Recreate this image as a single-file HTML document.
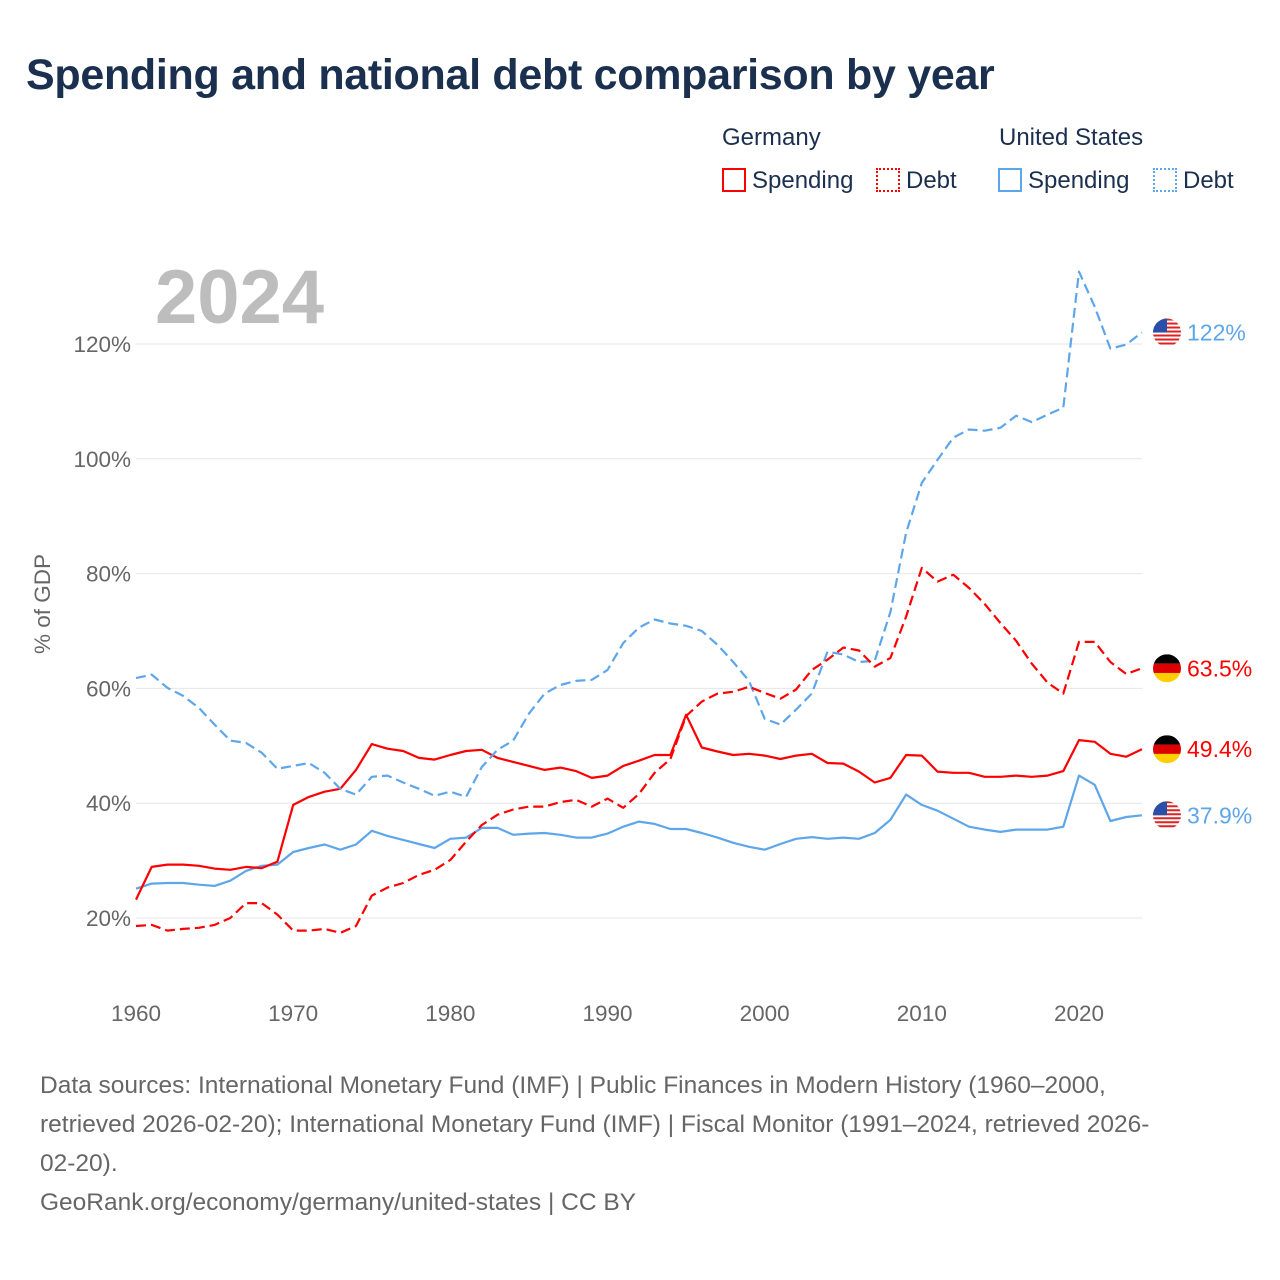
<!DOCTYPE html>
<html><head><meta charset="utf-8"><style>
body{margin:0;background:#fff;font-family:"Liberation Sans",sans-serif;}
#wrap{position:relative;width:1280px;height:1280px;overflow:hidden;}
.t{position:absolute;white-space:nowrap;}
</style></head><body>
<div id="wrap">
<div class="t" style="left:26px;top:51px;font-size:43px;font-weight:bold;color:#1b2f4f;letter-spacing:-0.3px;">Spending and national debt comparison by year</div>
<div class="t" style="left:722px;top:124px;font-size:24px;color:#1b2f4f;">Germany</div>
<div class="t" style="left:999px;top:124px;font-size:24px;color:#1b2f4f;">United States</div>
<div class="t" style="left:722px;top:167px;font-size:24px;color:#1b2f4f;"><span style="display:inline-block;width:20px;height:20px;border:2px solid #f00;vertical-align:-4px;margin-right:6px;"></span>Spending</div>
<div class="t" style="left:876px;top:167px;font-size:24px;color:#1b2f4f;"><span style="display:inline-block;width:20px;height:20px;border:2px dotted #f00;vertical-align:-4px;margin-right:6px;"></span>Debt</div>
<div class="t" style="left:998px;top:167px;font-size:24px;color:#1b2f4f;"><span style="display:inline-block;width:20px;height:20px;border:2px solid #5ea6ea;vertical-align:-4px;margin-right:6px;"></span>Spending</div>
<div class="t" style="left:1153px;top:167px;font-size:24px;color:#1b2f4f;"><span style="display:inline-block;width:20px;height:20px;border:2px dotted #5ea6ea;vertical-align:-4px;margin-right:6px;"></span>Debt</div>
<div class="t" style="left:155px;top:254px;font-size:76px;font-weight:bold;color:#bdbdbd;">2024</div>
<svg id="chart" width="1280" height="1280" style="position:absolute;left:0;top:0"></svg>
<div class="t" style="left:40px;top:1066px;font-size:24.5px;line-height:39px;color:#666;">Data sources: International Monetary Fund (IMF) | Public Finances in Modern History (1960–2000,<br>retrieved 2026-02-20); International Monetary Fund (IMF) | Fiscal Monitor (1991–2024, retrieved 2026-<br>02-20).<br>GeoRank.org/economy/germany/united-states | CC BY</div>
</div>
<script>
const years=[];for(let y=1960;y<=2024;y++)years.push(y);
const yTicks=[20,40,60,80,100,120];
const xTicks=[1960,1970,1980,1990,2000,2010,2020];
const usDebt=[61.8,62.4,60.1,58.7,56.6,53.7,50.9,50.5,48.8,46.0,46.5,47.0,45.3,42.5,41.5,44.6,44.8,43.6,42.5,41.3,42.0,41.1,46.3,49.3,50.9,55.6,59.1,60.6,61.3,61.5,63.2,67.9,70.6,72.0,71.3,70.9,70.0,67.6,64.6,61.3,54.7,53.7,56.3,59.1,66.4,65.9,64.6,64.8,73.3,87.1,95.8,99.8,103.7,105.1,104.9,105.4,107.5,106.4,107.7,108.9,132.6,126.5,119.2,119.9,122.0];
const deDebt=[18.6,18.8,17.8,18.1,18.3,18.8,20.0,22.6,22.6,20.6,17.8,17.8,18.1,17.4,18.6,23.9,25.3,26.1,27.5,28.4,30.1,33.3,36.2,38.0,38.9,39.4,39.4,40.2,40.6,39.4,40.8,39.2,41.6,45.3,47.7,55.2,57.7,59.1,59.4,60.3,59.2,58.2,59.8,63.2,65.0,67.1,66.6,63.8,65.3,72.5,81.0,78.6,79.8,77.5,74.7,71.4,68.3,64.3,61.0,59.1,68.1,68.1,64.6,62.5,63.5];
const deSpend=[23.2,28.9,29.3,29.3,29.1,28.6,28.4,28.9,28.7,29.8,39.7,41.1,42.0,42.5,45.8,50.3,49.5,49.1,47.9,47.6,48.4,49.1,49.3,47.9,47.2,46.5,45.8,46.2,45.6,44.4,44.8,46.5,47.4,48.4,48.4,55.4,49.7,49.0,48.4,48.6,48.3,47.7,48.3,48.6,47.0,46.9,45.5,43.6,44.4,48.4,48.3,45.5,45.3,45.3,44.6,44.6,44.8,44.6,44.8,45.6,51.0,50.7,48.6,48.1,49.4];
const usSpend=[25.1,26.0,26.1,26.1,25.8,25.6,26.5,28.2,29.1,29.3,31.5,32.2,32.8,31.9,32.8,35.2,34.3,33.6,32.9,32.2,33.8,34.0,35.7,35.7,34.5,34.7,34.8,34.5,34.0,34.0,34.7,35.9,36.8,36.4,35.5,35.5,34.8,34.0,33.1,32.4,31.9,32.9,33.8,34.1,33.8,34.0,33.8,34.8,37.1,41.5,39.7,38.7,37.3,35.9,35.4,35.0,35.4,35.4,35.4,35.9,44.8,43.2,36.9,37.6,37.9];
const NS='http://www.w3.org/2000/svg';
const svg=document.getElementById('chart');
const X=y=>136+(y-1960)*(943/60);
const Y=v=>1032.8-v*5.74;
function mk(tag,attrs,parent){const e=document.createElementNS(NS,tag);for(const k in attrs)e.setAttribute(k,attrs[k]);(parent||svg).appendChild(e);return e;}
yTicks.forEach(v=>{
  const l=mk('line',{x1:136,x2:1142,y1:Y(v),y2:Y(v),stroke:'#e6e6e6','stroke-width':1});
  
  
  const t=mk('text',{x:131,y:Y(v)+8,'text-anchor':'end','font-size':22.5,fill:'#666','font-family':'Liberation Sans, sans-serif'});
  t.textContent=v+'%';
  
  
});
xTicks.forEach(y=>{
  const t=mk('text',{x:X(y),y:1021,'text-anchor':'middle','font-size':22.5,fill:'#666','font-family':'Liberation Sans, sans-serif'});
  t.textContent=y;
  
  
});
const yt=mk('text',{x:0,y:0,transform:'translate(50,604) rotate(-90)','text-anchor':'middle','font-size':22.5,fill:'#666','font-family':'Liberation Sans, sans-serif'});
yt.textContent='% of GDP';


function series(vals,color,dash,name){
  const d=vals.map((v,i)=>(i?'L':'M')+X(years[i]).toFixed(1)+','+Y(v).toFixed(1)).join('');
  const p=mk('path',{d:d,fill:'none',stroke:color,'stroke-width':2.2,'stroke-dasharray':dash?'10,5':'none','stroke-linejoin':'round'});
  
  
}
series(usSpend,'#5ea6ea',false,'line-us-spending');
series(deSpend,'#ff0000',false,'line-de-spending');
series(usDebt,'#5ea6ea',true,'line-us-debt');
series(deDebt,'#ff0000',true,'line-de-debt');
function flag(v,country,label,color,name){
  const cx=1167,cy=Y(v),r=14;
  const g=mk('g',{});
  
  
  const id='c'+Math.round(cy);
  const cp=mk('clipPath',{id:id},g);mk('circle',{cx:cx,cy:cy,r:r},cp);
  const f=mk('g',{'clip-path':'url(#'+id+')'},g);
  if(country==='de'){
    mk('rect',{x:cx-r,y:cy-r,width:2*r,height:2*r/3,fill:'#000'},f);
    mk('rect',{x:cx-r,y:cy-r/3,width:2*r,height:2*r/3,fill:'#dd0000'},f);
    mk('rect',{x:cx-r,y:cy+r/3,width:2*r,height:2*r/3,fill:'#ffce00'},f);
  }else{
    mk('rect',{x:cx-r,y:cy-r,width:2*r,height:2*r,fill:'#fff'},f);
    for(let i=0;i<7;i++)mk('rect',{x:cx-r,y:cy-r+i*4,width:2*r,height:2,fill:'#d22'},f);
    mk('rect',{x:cx-r,y:cy-r,width:r,height:r,fill:'#2a4fa8'},f);
  }
  const t=mk('text',{x:1187,y:cy+8,'font-size':23,fill:color,'font-family':'Liberation Sans, sans-serif'});
  t.textContent=label;
  
  
}
flag(usDebt[usDebt.length-1],'us','122%','#5ea6ea','end-label-us-debt');
flag(deDebt[deDebt.length-1],'de','63.5%','#ff0000','end-label-de-debt');
flag(deSpend[deSpend.length-1],'de','49.4%','#ff0000','end-label-de-spending');
flag(usSpend[usSpend.length-1],'us','37.9%','#5ea6ea','end-label-us-spending');
</script>
</body></html>
